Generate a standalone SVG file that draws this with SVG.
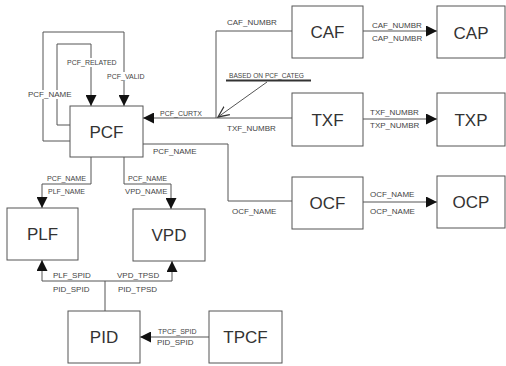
<svg xmlns="http://www.w3.org/2000/svg" width="506" height="366" viewBox="0 0 506 366">
<defs>
<style>
.box{fill:#fff;stroke:#555;stroke-width:1}
.big{font-family:"Liberation Sans",Arial,sans-serif;font-size:17px;fill:#333;text-anchor:middle}
.lbl{font-family:"Liberation Sans",Arial,sans-serif;font-size:8px;fill:#444}
.sm{font-size:7px}
.ln{fill:none;stroke:#555;stroke-width:1}
.bg{fill:#fff}
</style>
<marker id="ah" markerUnits="userSpaceOnUse" markerWidth="11" markerHeight="11" refX="11" refY="5.5" orient="auto">
<path d="M0,0 L11,5.5 L0,11 z" fill="#111"/>
</marker>
<marker id="oa" markerUnits="userSpaceOnUse" markerWidth="12" markerHeight="12" refX="11" refY="6" orient="auto">
<path d="M0,1 L11,6 L0,11" fill="none" stroke="#333" stroke-width="1.3"/>
</marker>
</defs>
<rect width="506" height="366" fill="#fff"/>
<g id="connectors">
<path class="ln" d="M70,141 H43 V32 H124 V106" marker-end="url(#ah)"/>
<path class="ln" d="M70,125 H57 V44 H91 V106" marker-end="url(#ah)"/>
<path class="ln" d="M292,31 H216 V118 H143" marker-end="url(#ah)"/>
<path class="ln" d="M292,118 H216"/>
<path class="ln" d="M363,31 H437" marker-end="url(#ah)"/>
<path class="ln" d="M363,119 H437" marker-end="url(#ah)"/>
<path class="ln" d="M143,144 H228 V201 H292"/>
<path class="ln" d="M363,202 H437" marker-end="url(#ah)"/>
<path class="ln" d="M91,157 V184 H42 V208" marker-end="url(#ah)"/>
<path class="ln" d="M124,157 V184 H171 V209" marker-end="url(#ah)"/>
<path class="ln" d="M105,311 V281 H42 V260" marker-end="url(#ah)"/>
<path class="ln" d="M105,281 H172 V261" marker-end="url(#ah)"/>
<path class="ln" d="M209,337 H140" marker-end="url(#ah)"/>
<path class="ln" d="M267,82 L218,117" marker-end="url(#oa)"/>
<line x1="226" y1="80.5" x2="311" y2="80.5" stroke="#333" stroke-width="2"/>
<rect class="bg" x="66" y="58" width="50" height="9"/>
<rect class="bg" x="106" y="72" width="38" height="9"/>
<rect class="bg" x="27" y="90" width="45" height="9"/>
<text class="lbl sm" x="67" y="64.5">PCF_RELATED</text>
<text class="lbl sm" x="107" y="78.5">PCF_VALID</text>
<text class="lbl" x="28" y="97">PCF_NAME</text>
<text class="lbl sm" x="160" y="115.5">PCF_CURTX</text>
<text class="lbl" x="227" y="25">CAF_NUMBR</text>
<text class="lbl" x="227" y="131">TXF_NUMBR</text>
<text class="lbl" x="229" y="78" style="font-size:6.6px">BASED ON PCF_CATEG</text>
<text class="lbl" x="153" y="154">PCF_NAME</text>
<text class="lbl" x="232" y="214">OCF_NAME</text>
<text class="lbl" x="372" y="28">CAF_NUMBR</text>
<text class="lbl" x="372" y="41">CAP_NUMBR</text>
<text class="lbl" x="370" y="115">TXF_NUMBR</text>
<text class="lbl" x="370" y="128">TXP_NUMBR</text>
<text class="lbl" x="370" y="197">OCF_NAME</text>
<text class="lbl" x="370" y="214">OCP_NAME</text>
<text class="lbl" x="47" y="180.5" style="font-size:7.2px">PCF_NAME</text>
<text class="lbl sm" x="48" y="193.5">PLF_NAME</text>
<text class="lbl" x="128" y="180.5" style="font-size:7.2px">PCF_NAME</text>
<text class="lbl" x="125" y="193.5" style="font-size:7.7px">VPD_NAME</text>
<text class="lbl" x="53" y="278">PLF_SPID</text>
<text class="lbl" x="53" y="292">PID_SPID</text>
<text class="lbl" x="117" y="278">VPD_TPSD</text>
<text class="lbl" x="118" y="292">PID_TPSD</text>
<text class="lbl sm" x="158" y="333.5">TPCF_SPID</text>
<text class="lbl" x="157" y="345" style="font-size:8px">PID_SPID</text>
</g>
<g id="PCF"><rect class="box" x="70" y="106" width="73" height="51"/><text class="big" x="106.5" y="138">PCF</text></g>
<g id="CAF"><rect class="box" x="292" y="6" width="71" height="52"/><text class="big" x="327.5" y="38">CAF</text></g>
<g id="CAP"><rect class="box" x="437" y="6" width="68" height="52"/><text class="big" x="471" y="39">CAP</text></g>
<g id="TXF"><rect class="box" x="292" y="93" width="71" height="53"/><text class="big" x="327.5" y="126">TXF</text></g>
<g id="TXP"><rect class="box" x="437" y="93" width="68" height="53"/><text class="big" x="471" y="126">TXP</text></g>
<g id="OCF"><rect class="box" x="292" y="177" width="71" height="52"/><text class="big" x="327.5" y="209">OCF</text></g>
<g id="OCP"><rect class="box" x="437" y="176" width="68" height="52"/><text class="big" x="471" y="208">OCP</text></g>
<g id="PLF"><rect class="box" x="7" y="208" width="71" height="52"/><text class="big" x="42.5" y="240">PLF</text></g>
<g id="VPD"><rect class="box" x="133" y="209" width="72" height="52"/><text class="big" x="169" y="241">VPD</text></g>
<g id="PID"><rect class="box" x="68" y="311" width="72" height="52"/><text class="big" x="104" y="343">PID</text></g>
<g id="TPCF"><rect class="box" x="209" y="311" width="73" height="52"/><text class="big" x="245.5" y="343">TPCF</text></g>
</svg>
